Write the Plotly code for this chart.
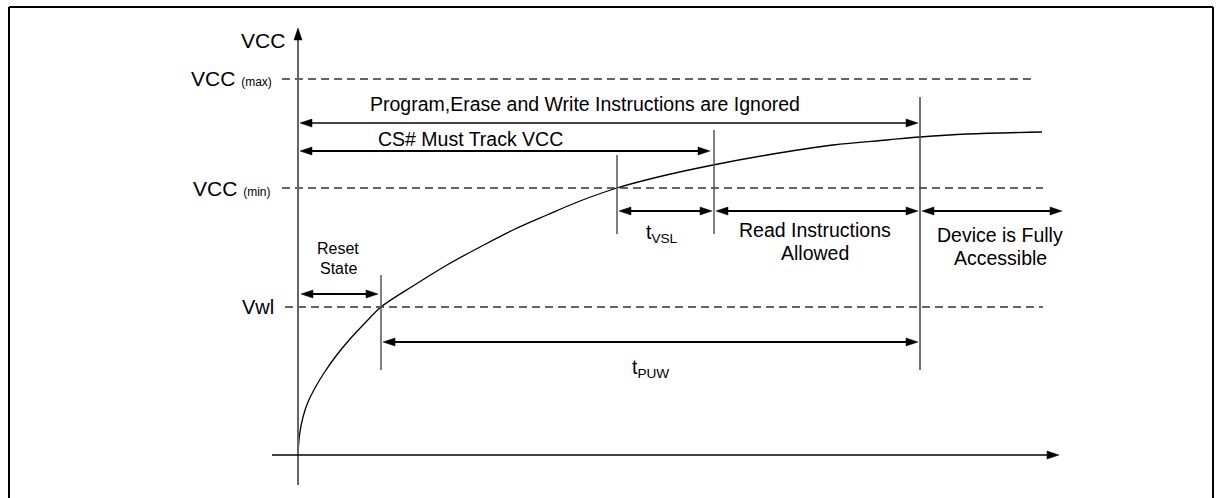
import plotly.graph_objects as go

# ---- data (time units on x, voltage units on y; origin at axes crossing) ----
VCC_MAX = 376
VCC_MIN = 267
VWL = 148

T_VWL = 83      # VCC reaches Vwl
T_VSL0 = 319    # VCC reaches VCC(min)
T_CS = 416      # end of tVSL
T_PUW = 622     # end of tPUW

curve_t = [0, 1.5, 5, 10, 17, 26, 38, 52, 67, 83, 115, 149, 182, 215,
           249, 282, 319, 360, 415, 469, 535, 589, 622, 669, 744]
curve_v = [0, 20, 38, 53, 67, 82, 99, 116, 132, 148, 169, 190, 208, 225,
           240, 254, 267, 278, 290, 300, 310, 315, 318, 321, 323]

level_values = [VCC_MAX, VCC_MIN, VWL]
level_labels = ["VCC <span style='font-size:12px'>(max)</span>",
                "VCC <span style='font-size:12px'>(min)</span>",
                "Vwl"]

FONT = "Liberation Sans, Arial, sans-serif"
W, H = 1221, 498
X0_PX, Y0_PX = 298, 455   # pixel location of origin

fig = go.Figure()

# curve
fig.add_trace(go.Scatter(x=curve_t, y=curve_v, mode="lines",
                         line=dict(color="black", width=1.3, shape="spline", smoothing=1.0),
                         hoverinfo="skip", showlegend=False))

shapes = []
annotations = []

def line(x0, y0, x1, y1, color="black", width=1.5, dash=None):
    d = dict(type="line", xref="x", yref="y", x0=x0, y0=y0, x1=x1, y1=y1,
             line=dict(color=color, width=width))
    if dash:
        d["line"]["dash"] = dash
    shapes.append(d)

def head(x, y, direction, length=12, half=4):
    if direction == "right":
        p = f"M{x},{y} L{x-length},{y-half} L{x-length},{y+half} Z"
    elif direction == "left":
        p = f"M{x},{y} L{x+length},{y-half} L{x+length},{y+half} Z"
    else:  # up
        p = f"M{x},{y} L{x-half},{y-length} L{x+half},{y-length} Z"
    shapes.append(dict(type="path", xref="x", yref="y", path=p,
                       fillcolor="black", line=dict(color="black", width=0.5)))

def darrow(x0, x1, y, color="black"):
    line(x0 + 6, y, x1 - 6, y, color=color, width=1.8)
    head(x0, y, "left")
    head(x1, y, "right")

def text(x, y, s, size=19.5, xanchor="center", yanchor="middle"):
    annotations.append(dict(x=x, y=y, xref="x", yref="y", text=s, showarrow=False,
                            xanchor=xanchor, yanchor=yanchor,
                            font=dict(family=FONT, size=size, color="black")))

# dashed level lines
dash_ends = [737, 745, 745]
dash_starts = [-16, -16, -13]
for v, xs, xe in zip(level_values, dash_starts, dash_ends):
    line(xs, v, xe, v, color="#333333", width=1.3, dash="8px,5px")

# axes
line(0, -30, 0, 418, color="#666666", width=2)
head(0, 427, "up")
line(-26, 0, 752, 0, color="black", width=1.5)
head(761, 0, "right")

# vertical marker lines
line(T_VWL, 85, T_VWL, 180, color="#555555", width=1.5)
line(T_VSL0, 221, T_VSL0, 300, color="#555555", width=1.5)
line(T_CS, 221, T_CS, 325, color="#555555", width=1.5)
line(T_PUW, 85, T_PUW, 358, color="#444444", width=1.5)

# arrows
darrow(2, T_PUW - 2, 332, color="#444444")
darrow(2, T_CS - 4, 304)
darrow(3, T_VWL - 3, 161)
darrow(T_VSL0 + 2, T_CS - 2, 244)
darrow(T_CS + 2, T_PUW - 2, 244)
darrow(T_PUW + 2, 764, 244)
darrow(T_VWL + 2, T_PUW - 2, 113)

# labels
text(-11, 415, "VCC", size=21, xanchor="right")
text(-24, VCC_MAX + 1, level_labels[0], size=21, xanchor="right")
text(-25, VCC_MIN, level_labels[1], size=21, xanchor="right")
text(-22, VWL, level_labels[2], size=20, xanchor="right")

text(287, 351, "Program,Erase and Write Instructions are Ignored")
text(172, 316, "CS# Must Track VCC")
text(40, 207, "Reset", size=16)
text(40, 187, "State", size=16)
text(364, 222, "t<sub>VSL</sub>")
text(517, 225, "Read Instructions")
text(517, 202, "Allowed")
text(702, 220, "Device is Fully")
text(702, 197, "Accessible")
text(352, 87, "t<sub>PUW</sub>")

# outer frame (paper coords)
fx0, fx1, fy1 = 9 / W, 1213 / W, 1 - 7 / H
for (a, b, c, d) in [(fx0, -0.05, fx0, fy1), (fx1, -0.05, fx1, fy1), (fx0, fy1, fx1, fy1)]:
    shapes.append(dict(type="line", xref="paper", yref="paper", x0=a, y0=b, x1=c, y1=d,
                       line=dict(color="black", width=2)))

fig.update_layout(
    width=W, height=H,
    margin=dict(l=0, r=0, t=0, b=0),
    paper_bgcolor="white", plot_bgcolor="white",
    xaxis=dict(range=[-X0_PX, W - X0_PX], visible=False, fixedrange=True),
    yaxis=dict(range=[Y0_PX - H, Y0_PX], visible=False, fixedrange=True),
    shapes=shapes, annotations=annotations,
    showlegend=False,
)

fig.write_html("out.html",
               config={"displayModeBar": False},
               post_script="document.body.style.margin='0';document.body.style.overflow='hidden';")
